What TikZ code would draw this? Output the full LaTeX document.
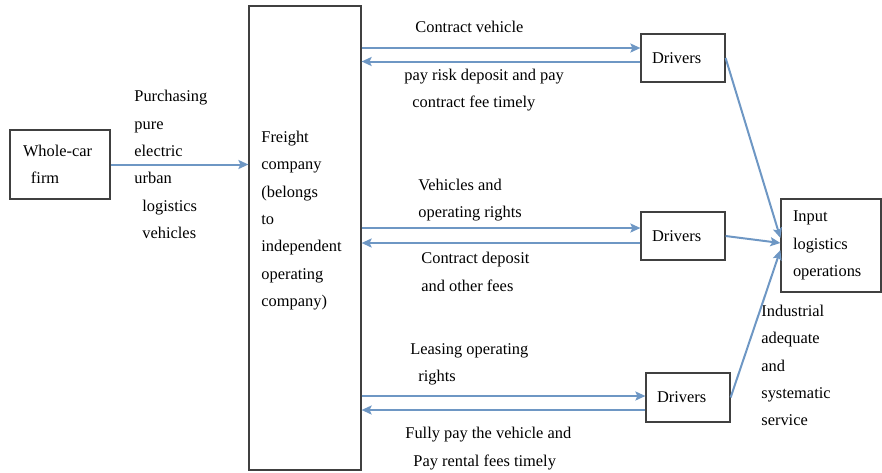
\documentclass[tikz,border=0pt]{standalone}
\usepackage{fontspec}
\setmainfont{Liberation Serif}
\usepackage{tikz}
\usetikzlibrary{arrows.meta}
\definecolor{flowblue}{RGB}{110,151,196}
\tikzset{
	txt/.style={font=\fontsize{8.2}{13.7}\selectfont, inner sep=0pt, align=left},
	box/.style={txt, draw=black!75, line width=0.6pt},
	flow/.style={draw=flowblue, line width=1pt, -{Stealth[length=5pt,width=4.5pt,inset=1pt]}}
}
\begin{document}
\begin{tikzpicture}[x=0.5pt, y=-0.5pt]
			%%%%% START %%%%%
			\useasboundingbox (0, 0) rectangle (882, 472);
			
			\node[box, text width=37pt, inner xsep=6.5pt, minimum height=34.5pt] (firm) at (60, 164.5) {Whole-car\\\hspace*{4pt}firm};
			
			\node[box, minimum width=56pt, minimum height=232pt] (freight) at (305, 238) {};
			\node[txt, anchor=west] (freighttxt) at (261, 220.5) {Freight\\company\\(belongs\\to\\independent\\operating\\company)};
			
			\node[box, text width=31pt, inner xsep=5.5pt, minimum height=24pt] (d1) at (683, 58) {Drivers};
			\node[box, text width=31pt, inner xsep=5.5pt, minimum height=24pt] (d2) at (683, 236) {Drivers};
			\node[box, text width=31pt, inner xsep=5.5pt, minimum height=24.5pt] (d3) at (688, 397.5) {Drivers};
			
			\node[box, text width=38pt, inner xsep=6pt, minimum height=46.5pt] (input) at (831, 245.5) {Input\\logistics\\operations};
			
			% labels
			\node[txt, anchor=west] (buy) at (134, 164.5) {Purchasing\\pure\\electric\\urban\\\hspace*{4pt}logistics\\\hspace*{4pt}vehicles};
			\node[txt, anchor=west] (c1) at (415, 27) {Contract vehicle};
			\node[txt, anchor=west] (r1) at (404, 90) {pay risk deposit and pay\\\hspace*{4pt}contract fee timely};
			\node[txt, anchor=west] (c2) at (418, 200) {Vehicles and\\operating rights};
			\node[txt, anchor=west] (r2) at (421, 272) {Contract deposit\\and other fees};
			\node[txt, anchor=west] (c3) at (410, 364.5) {Leasing operating\\\hspace*{4pt}rights};
			\node[txt, anchor=west] (r3) at (405, 448.5) {Fully pay the vehicle and\\\hspace*{4pt}Pay rental fees timely};
			\node[txt, anchor=west] (service) at (761, 365.5) {Industrial\\adequate\\and\\systematic\\service};
			
			% arrow ends
			\coordinate (d1in) at ([yshift=5pt]d1.west);
			\coordinate (d1out) at ([yshift=-1.75pt]d1.west);
			\coordinate (d2in) at ([yshift=4pt]d2.west);
			\coordinate (d2out) at ([yshift=-3.5pt]d2.west);
			\coordinate (d3in) at ([yshift=0.75pt]d3.west);
			\coordinate (d3out) at ([yshift=-6.25pt]d3.west);
			
			\draw[flow] (firm.east) -- (firm.east -| freight.west);
			
			\draw[flow] (d1in -| freight.east) -- (d1in);
			\draw[flow] (d1out) -- (d1out -| freight.east);
			\draw[flow] (d2in -| freight.east) -- (d2in);
			\draw[flow] (d2out) -- (d2out -| freight.east);
			\draw[flow] (d3in -| freight.east) -- (d3in);
			\draw[flow] (d3out) -- (d3out -| freight.east);
			
			\draw[flow] (d1.east) -- ([yshift=3.75pt]input.west);
			\draw[flow] (d2.east) -- ([yshift=1.25pt]input.west);
			\draw[flow] (d3.east) -- ([yshift=-2.25pt]input.west);
			
			%%%%% END %%%%%
		\end{tikzpicture}
\end{document}
